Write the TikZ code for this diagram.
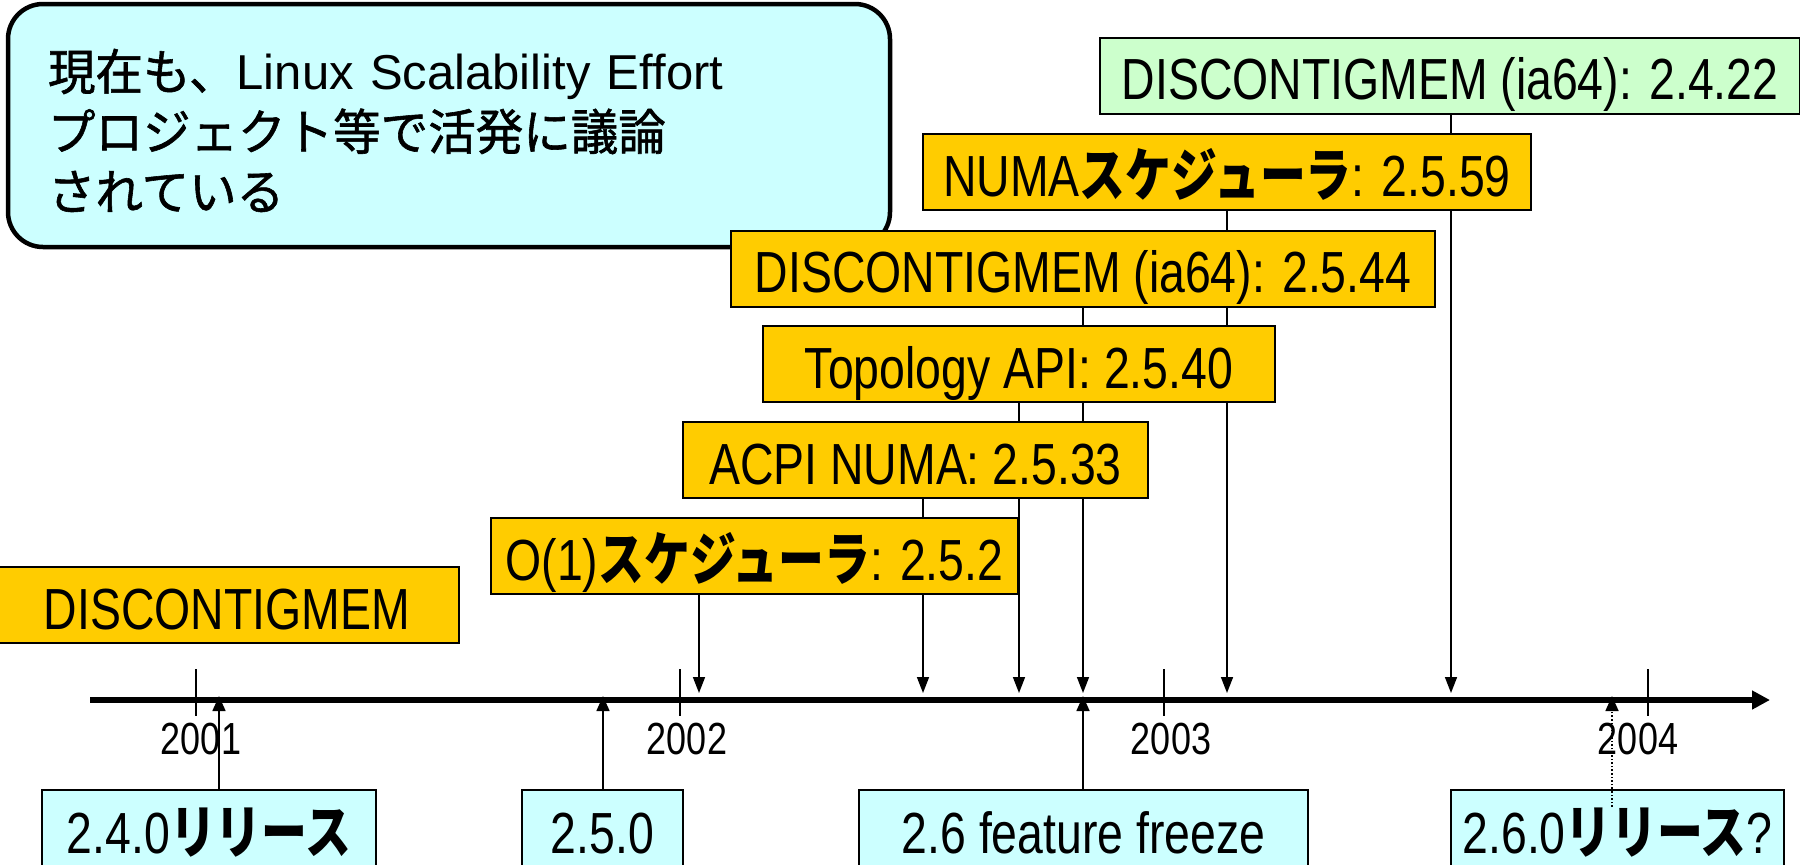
\documentclass[tikz,border=0pt]{standalone}
\usepackage{fontspec}
\setmainfont[FakeStretch=0.80]{Liberation Sans}
\newfontfamily\plainlat{Liberation Sans}
\newfontfamily\jpreg[FakeStretch=0.97, FakeBold=1.2]{Noto Sans CJK JP}
\newfontfamily\jpkata[FakeStretch=0.79]{Noto Sans CJK JP}
\usetikzlibrary{arrows.meta}
\definecolor{featyellow}{HTML}{FFCC00}
\definecolor{relcyan}{HTML}{CCFFFF}
\definecolor{featgreen}{HTML}{CCFFCC}
\newcommand{\kata}[1]{{\jpkata\bfseries #1}}
\pgfdeclarelayer{background}
\pgfsetlayers{background,main}
\begin{document}
\begin{tikzpicture}[x=1pt,y=-1pt,
  every node/.style={inner sep=0pt, outer sep=0pt},
  featbox/.style={draw=black, line width=2pt, fill=featyellow, text height=62pt, text depth=14pt, font=\fontsize{58}{62}\selectfont},
  relbox/.style={draw=black, line width=2pt, fill=relcyan, anchor=north, text height=63pt, text depth=40pt, font=\fontsize{58}{62}\selectfont},
  yearlbl/.style={anchor=base, font=\fontsize{45}{48}\selectfont},
  downarr/.style={line width=1.6pt, -{Triangle[length=16pt,width=12pt]}},
  uparr/.style={line width=1.6pt, -{Triangle[length=15pt,width=13pt]}},
  yeartick/.style={line width=1.6pt},
  notebox/.style={draw=black, line width=4.5pt, fill=relcyan, rounded corners=35pt, align=left}
]
\useasboundingbox (0,0) rectangle (1800,865);

% note box
\node[notebox, minimum width=882pt, minimum height=243pt, text width=802pt, font=\fontsize{49}{60}\selectfont] (note) at (449,125.5)
  {\rule{0pt}{51pt}{\jpreg 現在も、}{\plainlat Linux Scalability Effort}\\{\jpreg プロジェクト等で活発に議論}\\{\jpreg されている}};

% feature boxes
\node[featbox, minimum width=464pt] (disc) at (227,605) {DISCONTIGMEM};
\node[featbox, minimum width=527pt] (o1) at (754.5,556) {O(1)\kata{スケジューラ}: 2.5.2};
\node[featbox, minimum width=465pt] (acpi) at (915.5,460) {ACPI NUMA: 2.5.33};
\node[featbox, minimum width=512pt] (topo) at (1019,364) {Topology API: 2.5.40};
\node[featbox, minimum width=704pt] (d44) at (1083,268.5) {DISCONTIGMEM (ia64): 2.5.44};
\node[featbox, minimum width=608pt] (numa) at (1227,172) {NUMA\kata{スケジューラ}: 2.5.59};
\node[featbox, fill=featgreen, minimum width=700pt] (d22) at (1450,75.5) {DISCONTIGMEM (ia64): 2.4.22};

% release boxes
\node[relbox, minimum width=334pt] (rel240) at (209,790) {2.4.0\kata{リリース}};
\node[relbox, minimum width=161pt] (rel250) at (602.5,790) {2.5.0};
\node[relbox, minimum width=449pt] (frz) at (1083.5,790) {2.6 feature freeze};
\node[relbox, minimum width=333pt] (rel260) at (1617.5,790) {2.6.0\kata{リリース}?};

% year labels
\node[yearlbl] (y2001) at (201,754) {2001};
\node[yearlbl] (y2002) at (687,754) {2002};
\node[yearlbl] (y2003) at (1171,754) {2003};
\node[yearlbl] (y2004) at (1638,754) {2004};

% axis coordinates
\coordinate (axstart) at (90,700);
\coordinate (axend) at (1770,700);
\coordinate (a-o1) at (699,693);
\coordinate (a-acpi) at (923,693);
\coordinate (a-topo) at (1019,693);
\coordinate (a-d44) at (1083,693);
\coordinate (a-numa) at (1227,693);
\coordinate (a-d22) at (1451,693);
\coordinate (u-240) at (219,696);
\coordinate (u-250) at (603,696);
\coordinate (u-frz) at (1083,696);
\coordinate (u-260) at (1612,696);
\coordinate (u-260s) at (1612,807);

\begin{pgfonlayer}{background}
  \draw[line width=6pt, -{Triangle[length=18pt,width=18pt]}] (axstart) -- (axend);
  \foreach \tx in {196,680,1164,1648} {\draw[yeartick] (\tx,669) -- (\tx,716);}
  \draw[downarr] (o1.south -| a-o1) -- (a-o1);
  \draw[downarr] (acpi.south -| a-acpi) -- (a-acpi);
  \draw[downarr] (topo.south -| a-topo) -- (a-topo);
  \draw[downarr] (d44.south -| a-d44) -- (a-d44);
  \draw[downarr] (numa.south -| a-numa) -- (a-numa);
  \draw[downarr] (d22.south -| a-d22) -- (a-d22);
  \draw[uparr] (rel240.north -| u-240) -- (u-240);
  \draw[uparr] (rel250.north -| u-250) -- (u-250);
  \draw[uparr] (frz.north -| u-frz) -- (u-frz);
\end{pgfonlayer}
\draw[uparr, dotted] (u-260s) -- (u-260);
\end{tikzpicture}
\end{document}
